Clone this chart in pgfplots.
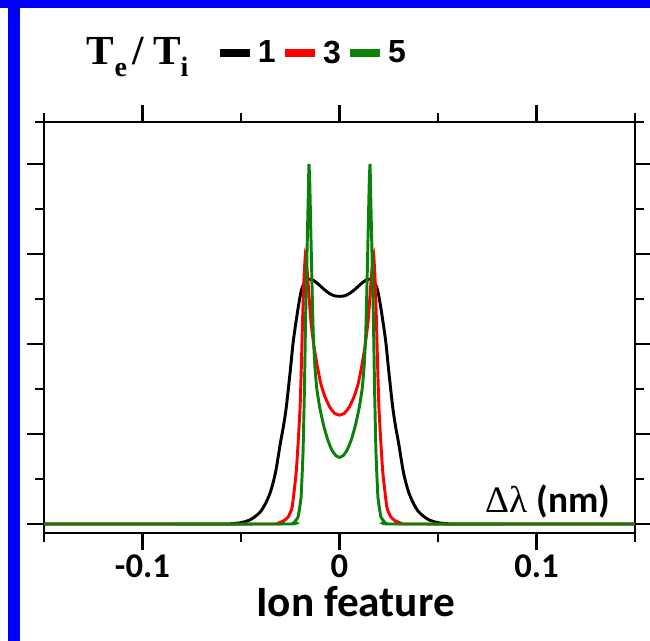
\documentclass[border=0pt]{standalone}
\usepackage{fontspec}
\setmainfont{Carlito}
\newfontfamily\tnr{Liberation Serif}
\newfontfamily\arial{Liberation Sans}
\usepackage{pgfplots}
\pgfplotsset{compat=1.18}
\definecolor{myblue}{RGB}{0,0,255}
\definecolor{mygreen}{RGB}{10,130,10}
\definecolor{myred}{RGB}{255,0,0}
\pgfplotsset{
 legsw/.style={legend image code/.code={%
   \draw[line width=6pt] (0pt,0pt) -- (22.5pt,0pt);
   \node[anchor=west, inner sep=0pt, text=black, font=\arial\bfseries\fontsize{24}{24}\selectfont] at (28.5pt,0pt) {#1};}}
}
\begin{document}
\begin{tikzpicture}
\useasboundingbox (0,0) rectangle (487.5pt,480.75pt);
\fill[myblue] (0,474.75pt) rectangle (487.5pt,480.75pt);
\fill[myblue] (6pt,0) rectangle (15pt,480.75pt);
\node[anchor=base west, inner sep=0pt] at (65pt,432pt) {\tnr\bfseries\fontsize{31}{31}\selectfont T\raisebox{-9pt}{\fontsize{21}{21}\selectfont e}\kern4pt/\kern7pt T\raisebox{-9pt}{\fontsize{21}{21}\selectfont i}};
\begin{axis}[
 at={(33pt,81pt)}, anchor=south west, scale only axis,
 width=443.25pt, height=308.25pt,
 xmin=-0.15, xmax=0.15, ymin=-0.1, ymax=4.467,
 xtick={-0.1,0,0.1}, xticklabels={-0.1,0,0.1},
 minor xtick={-0.15,-0.05,0.05,0.15},
 ytick={0,1,2,3,4}, yticklabels={},
 minor ytick={0.5,1.5,2.5,3.5,4.467},
 tick align=outside, major tick length=12.5pt, minor tick length=6.75pt,
 tick style={line width=2pt, black},
 axis line style={line width=1.9pt},
 xticklabel style={font=\bfseries\fontsize{26}{26}\selectfont},
 xlabel={Ion feature},
 xlabel style={font=\bfseries\fontsize{32.5}{32.5}\selectfont, xshift=12pt},
 legend columns=3,
 legend style={draw=none, fill=none, inner sep=0pt, outer sep=0pt,
   at={(0.291,1.168)}, anchor=west,
   nodes={inner sep=0pt},
   /tikz/every odd column/.append style={column sep=0pt},
   /tikz/every even column/.append style={column sep=3pt}},
]
\addplot[black, line width=2.2pt, smooth, tension=0.5, legsw=1] coordinates {
(-0.15,0) (-0.06,0) (-0.055,0.003) (-0.050,0.015) (-0.046,0.04) (-0.043,0.08)
(-0.040,0.14) (-0.0375,0.23) (-0.035,0.36) (-0.0325,0.57) (-0.030,0.90)
(-0.0285,1.08) (-0.027,1.30) (-0.025,1.70) (-0.0234,2.04) (-0.021,2.40)
(-0.0193,2.60) (-0.0175,2.69) (-0.0155,2.72) (-0.0135,2.71) (-0.011,2.67)
(-0.008,2.61) (-0.005,2.56) (-0.0025,2.535) (0,2.53)
(0.0025,2.535) (0.005,2.56) (0.008,2.61) (0.011,2.67) (0.0135,2.71)
(0.0155,2.72) (0.0175,2.69) (0.0193,2.60) (0.021,2.40) (0.0234,2.04)
(0.025,1.70) (0.027,1.30) (0.0285,1.08) (0.030,0.90) (0.0325,0.57)
(0.035,0.36) (0.0375,0.23) (0.040,0.14) (0.043,0.08) (0.046,0.04)
(0.050,0.015) (0.055,0.003) (0.06,0) (0.15,0)};
\addlegendentry{}
\addplot[myred, line width=2.2pt, smooth, tension=0.25, legsw=3] coordinates {
(-0.15,0) (-0.034,0) (-0.031,0.01) (-0.028,0.04) (-0.026,0.08) (-0.024,0.19)
(-0.022,0.57) (-0.021,0.9) (-0.020,1.30) (-0.0193,1.8) (-0.0187,2.3)
(-0.0180,2.75) (-0.0173,3.0) (-0.0167,2.9) (-0.0157,2.6) (-0.0145,2.25)
(-0.013,1.98) (-0.0115,1.78) (-0.0095,1.56) (-0.0075,1.42) (-0.005,1.30)
(-0.0025,1.23) (0,1.21)
(0.0025,1.23) (0.005,1.30) (0.0075,1.42) (0.0095,1.56) (0.0115,1.78)
(0.013,1.98) (0.0145,2.25) (0.0157,2.6) (0.0167,2.9) (0.0173,3.0)
(0.0180,2.75) (0.0187,2.3) (0.0193,1.8) (0.020,1.30) (0.021,0.9)
(0.022,0.57) (0.024,0.19) (0.026,0.08) (0.028,0.04) (0.031,0.01) (0.034,0) (0.15,0)};
\addlegendentry{}
\addplot[mygreen, line width=2.2pt, smooth, tension=0.2, legsw=5] coordinates {
(-0.15,0) (-0.026,0) (-0.023,0.02) (-0.021,0.08) (-0.0195,0.3) (-0.0185,0.8)
(-0.0178,1.5) (-0.0172,2.3) (-0.0165,3.0) (-0.0158,3.7) (-0.0155,4.0)
(-0.0151,3.8) (-0.0146,3.3) (-0.0140,2.7) (-0.0133,2.1) (-0.0125,1.75)
(-0.0115,1.50) (-0.010,1.29) (-0.008,1.09) (-0.006,0.936) (-0.004,0.827)
(-0.002,0.762) (0,0.74)
(0.002,0.762) (0.004,0.827) (0.006,0.936) (0.008,1.09) (0.010,1.29)
(0.0115,1.50) (0.0125,1.75) (0.0133,2.1) (0.0140,2.7) (0.0146,3.3)
(0.0151,3.8) (0.0155,4.0) (0.0158,3.7) (0.0165,3.0) (0.0172,2.3)
(0.0178,1.5) (0.0185,0.8) (0.0195,0.3) (0.021,0.08) (0.023,0.02) (0.026,0) (0.15,0)};
\addlegendentry{}
\node[anchor=base east, inner sep=0pt] at (axis cs:0.1375,0.133) {{\tnr\fontsize{28}{28}\selectfont Δλ}\kern7pt{\bfseries\fontsize{28}{28}\selectfont (nm)}};
\end{axis}
\end{tikzpicture}
\end{document}
